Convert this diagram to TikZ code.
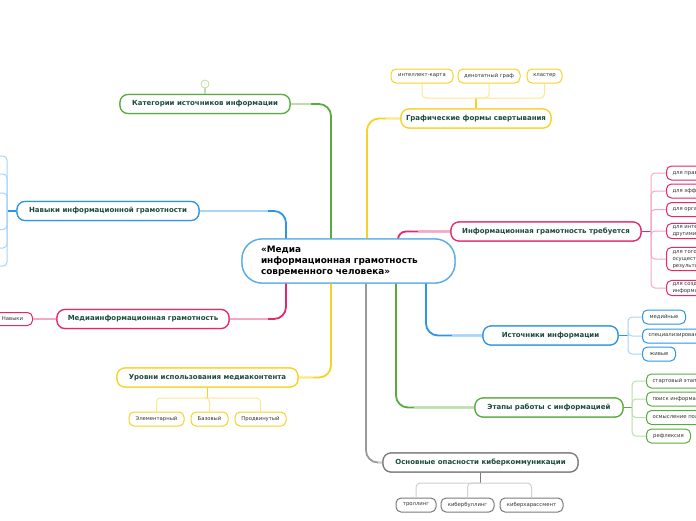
\documentclass[tikz,border=0pt]{standalone}
\usepackage{fontspec}
\setmainfont{DejaVu Sans}
\definecolor{gS}{HTML}{5AAB3F}
\definecolor{gL}{HTML}{B9E0A5}
\definecolor{bS}{HTML}{2D95E3}
\definecolor{bL}{HTML}{A8D4F5}
\definecolor{pS}{HTML}{E3296B}
\definecolor{pL}{HTML}{F4A8C4}
\definecolor{yS}{HTML}{F7D226}
\definecolor{yL}{HTML}{FBE88F}
\definecolor{kS}{HTML}{9A9A9A}
\definecolor{kL}{HTML}{D0D0D0}
\definecolor{kD}{HTML}{7A7A7A}
\definecolor{cB}{HTML}{5AAEE8}
\definecolor{txt}{HTML}{1D4B3E}
\definecolor{ltxt}{HTML}{333333}
\begin{document}
\begin{tikzpicture}[x=1pt,y=-1pt,
  central/.style={draw=cB,line width=1.3pt,fill=white,rounded corners=20pt,minimum width=213pt,minimum height=44pt,text width=175pt,inner xsep=19pt,align=left,font=\bfseries\fontsize{8.9}{10.8}\selectfont,text=black},
  branch/.style={draw=#1,line width=1.2pt,fill=white,rounded corners=8pt,minimum height=19pt,inner sep=0pt,font=\bfseries\fontsize{7}{8}\selectfont,text=txt},
  leaf/.style={draw=#1,line width=1pt,fill=white,rounded corners=5pt,minimum height=14pt,inner xsep=6pt,inner ysep=2pt,font=\fontsize{5.3}{7}\selectfont,text=ltxt},
  mconn/.style={draw=#1,line width=1.8pt,rounded corners=12pt},
  lconn/.style={draw=#1,line width=1pt,rounded corners=4pt},
]
\useasboundingbox (0,0) rectangle (696,520);
\clip (0,0) rectangle (696,520);

% central
\node[central] (c) at (348.5,261) {«Медиа\\информационная грамотность\\современного человека»};

% trunk coordinates
\coordinate (tB) at (286,239);
\coordinate (tG) at (331,239);
\coordinate (tY) at (367,239);
\coordinate (tP) at (398,239);
\coordinate (bP) at (286,283);
\coordinate (bY) at (331,283);
\coordinate (bK) at (366,283);
\coordinate (bG) at (396,283);
\coordinate (bB) at (426,283);

% branch nodes
\node[branch=gS,minimum width=170pt] (kat) at (205,104) {Категории источников информации};
\node[branch=bS,minimum width=182pt] (nav) at (108,211) {Навыки информационной грамотности};
\node[branch=pS,minimum width=172pt] (med) at (143,319) {Медиаинформационная грамотность};
\node[branch=yS,minimum width=181pt] (urv) at (207.5,377.5) {Уровни использования медиаконтента};
\node[branch=yS,minimum width=150pt] (gf) at (476,118.5) {Графические формы свертывания};
\node[branch=pS,minimum width=190pt] (ig) at (546,231.5) {Информационная грамотность требуется};
\node[branch=bS,minimum width=135pt] (ist) at (550.5,335.5) {Источники информации};
\node[branch=gS,minimum width=148pt] (et) at (549,407.5) {Этапы работы с информацией};
\node[branch=kD,minimum width=195pt] (op) at (480.5,462.5) {Основные опасности киберкоммуникации};

% main connectors
\draw[mconn=gS] (kat.east) -| (tG);
\draw[mconn=bS] (nav.east) -| (tB);
\draw[mconn=pS] (med.east) -| (bP);
\draw[mconn=yS] (urv.east) -| (bY);
\draw[mconn=yS] (gf.west) -| (tY);
\draw[mconn=pS,rounded corners=8pt] (ig.west) -| (tP);
\draw[mconn=bS] (ist.west) -| (bB);
\draw[mconn=gS] (et.west) -| (bG);
\draw[mconn=kS] (op.west) -| (bK);
% lighter parts near nodes
\draw[draw=gL,line width=1.8pt] (kat.east) -- ++(20,0);
\draw[draw=bL,line width=1.8pt] (nav.east) -- ++(68,0);
\draw[draw=pL,line width=1.8pt] (med.east) -- ++(38,0);
\draw[draw=yL,line width=1.8pt] (urv.east) -- ++(14,0);
\draw[draw=yL,line width=1.8pt] (gf.west) -- ++(-14,0);
\draw[draw=pL,line width=1.8pt] (ig.west) -- ++(-32,0);
\draw[draw=bL,line width=1.8pt] (ist.west) -- ++(-30,0);
\draw[draw=gL,line width=1.8pt] (et.west) -- ++(-60,0);
\draw[draw=kL,line width=1.8pt] (op.west) -- ++(-4,0);

% redraw nodes on top
\node[central] at (c.center) {«Медиа\\информационная грамотность\\современного человека»};
\node[branch=gS,minimum width=170pt] at (kat.center) {Категории источников информации};
\node[branch=bS,minimum width=182pt] at (nav.center) {Навыки информационной грамотности};
\node[branch=pS,minimum width=172pt] at (med.center) {Медиаинформационная грамотность};
\node[branch=yS,minimum width=181pt] at (urv.center) {Уровни использования медиаконтента};
\node[branch=yS,minimum width=150pt] at (gf.center) {Графические формы свертывания};
\node[branch=pS,minimum width=190pt] at (ig.center) {Информационная грамотность требуется};
\node[branch=bS,minimum width=135pt] at (ist.center) {Источники информации};
\node[branch=gS,minimum width=148pt] at (et.center) {Этапы работы с информацией};
\node[branch=kD,minimum width=195pt] at (op.center) {Основные опасности киберкоммуникации};

% small circle above Категории
\node[circle,draw=gL,line width=0.8pt,fill=white,minimum size=8pt,inner sep=0pt,font=\fontsize{3.5}{4}\selectfont,text=gL] (kc) at (205,84) {1};
\draw[draw=gL,line width=1.2pt] (kc.south) -- (kat.north);

% Графические формы leaves
\coordinate (jGF) at (476,98);
\node[leaf=yS,minimum width=62pt] (gf1) at (422,76) {интеллект-карта};
\node[leaf=yS,minimum width=62pt] (gf2) at (489,76) {денотатный граф};
\node[leaf=yS,minimum width=35pt] (gf3) at (544.5,76) {кластер};
\draw[draw=yS,line width=1.2pt] (gf.north) -- (jGF);
\draw[lconn=yL] (jGF) -| (gf1.south);
\draw[lconn=yL] (jGF) -| (gf2.south);
\draw[lconn=yL] (jGF) -| (gf3.south);

% Уровни leaves
\coordinate (jUR) at (207.5,398);
\node[leaf=yS,minimum width=55pt] (u1) at (156.5,419) {Элементарный};
\node[leaf=yS,minimum width=37pt] (u2) at (209.5,419) {Базовый};
\node[leaf=yS,minimum width=51pt] (u3) at (260.5,419) {Продвинутый};
\draw[draw=yS,line width=1.2pt] (urv.south) -- (jUR);
\draw[lconn=yL] (jUR) -| (u1.north);
\draw[lconn=yL] (jUR) -| (u2.north);
\draw[lconn=yL] (jUR) -| (u3.north);

% Основные опасности leaves
\coordinate (jOP) at (480.5,483);
\node[leaf=kD,minimum width=40pt] (o1) at (416,505) {троллинг};
\node[leaf=kD,minimum width=53pt] (o2) at (467.5,505) {кибербуллинг};
\node[leaf=kD,minimum width=63pt] (o3) at (531.5,505) {киберхарассмент};
\draw[draw=kD,line width=1.2pt] (op.south) -- (jOP);
\draw[lconn=kL] (jOP) -| (o1.north);
\draw[lconn=kL] (jOP) -| (o2.north);
\draw[lconn=kL] (jOP) -| (o3.north);

% Информационная грамотность требуется leaves
\coordinate (jIG) at (651,231.5);
\node[leaf=pS,anchor=west,align=left] (i1) at (666,173) {для правильного выбора};
\node[leaf=pS,anchor=west,align=left] (i2) at (666,191) {для эффективного поиска};
\node[leaf=pS,anchor=west,align=left] (i3) at (666,209.5) {для организации информации};
\node[leaf=pS,anchor=west,align=left] (i4) at (666,231) {для интеграции с\\другими людьми};
\node[leaf=pS,anchor=west,align=left] (i5) at (666,259) {для того, чтобы\\осуществлять\\результативно};
\node[leaf=pS,anchor=west,align=left] (i6) at (666,288) {для создания\\информации};
\draw[draw=pS,line width=1.8pt] (ig.east) -- (jIG);
\foreach \i in {1,...,6} {\draw[lconn=pL] (jIG) |- (i\i.west);}

% Источники leaves
\coordinate (jIS) at (628,335.5);
\node[leaf=bS,anchor=west,minimum width=43pt] (s1) at (642,317) {медийные};
\node[leaf=bS,anchor=west] (s2) at (642,336) {специализированные};
\node[leaf=bS,anchor=west,minimum width=33pt] (s3) at (642,354) {живые};
\draw[draw=bS,line width=1.2pt] (ist.east) -- (jIS);
\foreach \i in {1,2,3} {\draw[lconn=bL] (jIS) |- (s\i.west);}

% Этапы leaves
\coordinate (jET) at (632,407.5);
\node[leaf=gS,anchor=west] (e1) at (646,381) {стартовый этап};
\node[leaf=gS,anchor=west] (e2) at (646,399) {поиск информации};
\node[leaf=gS,anchor=west] (e3) at (646,417.5) {осмысление полученного};
\node[leaf=gS,anchor=west,minimum width=44pt] (e4) at (646,436) {рефлексия};
\draw[draw=gS,line width=1.2pt] (et.east) -- (jET);
\foreach \i in {1,...,4} {\draw[lconn=gL] (jET) |- (e\i.west);}

% Навыки информационной грамотности leaves (off-canvas)
\coordinate (jN) at (7,211);
\coordinate (n1) at (-10,156);
\coordinate (n2) at (-10,174);
\coordinate (n3) at (-10,193);
\coordinate (n4) at (-10,229.5);
\coordinate (n5) at (-10,248);
\coordinate (n6) at (-10,266);
\draw[draw=bS,line width=1.8pt] (nav.west) -- (jN);
\foreach \i in {1,...,6} {\draw[lconn=bL] (jN) |- (n\i);}

% Медиаинформационная leaf
\node[leaf=pS,minimum width=40pt,minimum height=13pt] (mn) at (12.5,319) {Навыки};
\draw[draw=pL,line width=1.2pt] (med.west) -- (mn.east);
\end{tikzpicture}
\end{document}
